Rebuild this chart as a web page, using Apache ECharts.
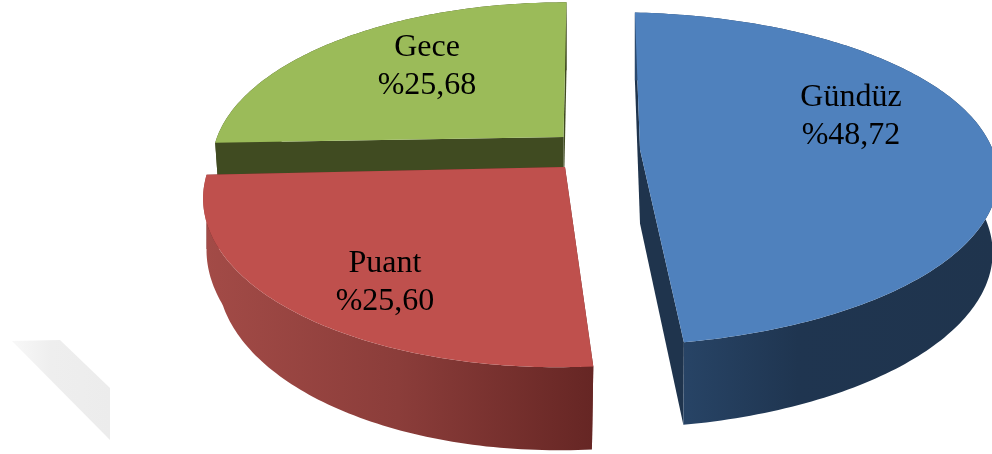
<!DOCTYPE html>
<html>
<head>
<meta charset="utf-8">
<style>
  html, body { margin: 0; padding: 0; background: #fff; }
  #chart { width: 992px; height: 454px; }
</style>
<script src="https://cdn.jsdelivr.net/npm/echarts@6/dist/echarts.min.js"></script>
</head>
<body>
<div id="chart"></div>
<script>
var categories = ['Gündüz', 'Puant', 'Gece']
var shares = [48.72, 25.60, 25.68]

// each exploded slice has its own perspective in the picture
var sliceShapes = [
  { cx: 640, cy: 149.5, rx: 380, ry: 161, sx: -6, ty: -2, k: 0.175, m: 0.08, lowerRx: 0.985, z: 1, labelX: 851, labelY: 79 },
  { cx: 565, cy: 167, rx: 356, ry: 167, sx: 5, ty: -0.6, k: 0.166, m: 0, lowerRx: 0.96, taper: [250, 267.5], z: 5, labelX: 385, labelY: 245 },
  { cx: 563.5, cy: 137, rx: 346, ry: 157, sx: 3.5, ty: 1, k: 0.166, m: 0, lowerRx: 0.985, z: 3, labelX: 427, labelY: 29 }
]
var topColors = ['#4f81bd', '#bf504d', '#9bbb59']
var faceColors = ['#1f344d', '#6a2725', '#404b21']
var wallStops = [
  [[0, '#2b4a6f'], [0.45, '#1f3550'], [1, '#1f344d']],
  [[0, '#a34b47'], [0.5, '#8b3d3a'], [1, '#662624']],
  [[0, '#404b21'], [1, '#404b21']]
]
var total = shares.reduce(function (a, b) { return a + b }, 0)

function lowerScale(s, deg) {
  if (!s.taper || deg <= s.taper[0]) return s.lowerRx
  var f = Math.min(1, (deg - s.taper[0]) / (s.taper[1] - s.taper[0]))
  return s.lowerRx + (1 - s.lowerRx) * f
}

function rimPoint(s, deg, lower) {
  var t = deg * Math.PI / 180
  var X = Math.sin(t)
  var Y = Math.cos(t)
  var w = 1 + s.k * Y + s.m * X
  var rx = lower ? s.rx * lowerScale(s, deg) : s.rx
  var ry = lower ? s.ry * 1.045 : s.ry
  var cy = lower ? s.cy + 74 : s.cy
  return [s.cx + (rx * X + s.sx * Y) / w, cy + (-ry * Y + s.ty * X) / w]
}

function arc(s, from, to, lower) {
  var pts = []
  var n = Math.ceil(to - from)
  for (var i = 0; i <= n; i++) {
    pts.push(rimPoint(s, from + (to - from) * i / n, lower))
  }
  return pts
}

function renderSlice(params, api) {
  var i = params.dataIndex
  var s = sliceShapes[i]
  var before = 0
  for (var j = 0; j < i; j++) before += shares[j]
  var from = before / total * 360
  var to = from + api.value(0) / total * 360
  var apex = [s.cx, s.cy]
  var apexLow = [s.cx, s.cy + 74]

  var wall = arc(s, from, to, false).concat(arc(s, from, to, true).reverse())
  var faceStart = [apex, rimPoint(s, from, false), rimPoint(s, from, true), apexLow]
  var faceEnd = [apex, rimPoint(s, to, false), rimPoint(s, to, true), apexLow]
  var top = [apex].concat(arc(s, from, to, false))
  var wallFill = new echarts.graphic.LinearGradient(0, 0, 1, 0, wallStops[i].map(function (c) {
    return { offset: c[0], color: c[1] }
  }))

  return {
    type: 'group',
    children: [
      { type: 'polygon', z2: s.z, shape: { points: faceStart }, style: { fill: faceColors[i] } },
      { type: 'polygon', z2: s.z, shape: { points: faceEnd }, style: { fill: faceColors[i] } },
      { type: 'polygon', z2: s.z, shape: { points: wall }, style: { fill: wallFill } },
      { type: 'polygon', z2: s.z + 1, shape: { points: top }, style: { fill: topColors[i] } },
      {
        type: 'text',
        z2: 20,
        x: s.labelX,
        y: s.labelY,
        style: {
          text: categories[i] + '\n%' + shares[i].toFixed(2).replace('.', ','),
          fill: '#000',
          font: '32px "Liberation Serif"',
          lineHeight: 38,
          align: 'center',
          verticalAlign: 'top'
        }
      }
    ]
  }
}

var chart = echarts.init(document.getElementById('chart'), null, { renderer: 'canvas' })
chart.setOption({
  backgroundColor: '#fff',
  animation: false,
  graphic: [{
    type: 'polygon',
    silent: true,
    shape: { points: [[12, 341], [60, 340], [110, 388], [110, 440]] },
    style: {
      fill: new echarts.graphic.LinearGradient(0, 0, 1, 0, [
        { offset: 0, color: '#f8f8f8' },
        { offset: 0.4, color: '#eeeeee' },
        { offset: 1, color: '#ececec' }
      ])
    }
  }],
  series: [{
    type: 'custom',
    coordinateSystem: 'none',
    silent: true,
    renderItem: renderSlice,
    data: shares.map(function (v, i) {
      return { name: categories[i], value: [v] }
    })
  }]
})
</script>
</body>
</html>
